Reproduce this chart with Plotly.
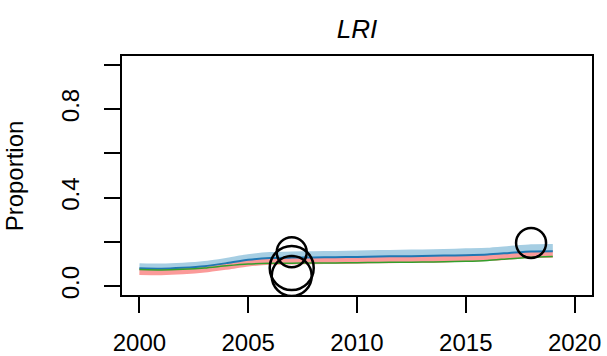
import plotly.graph_objects as go

# Fitted proportions by year
years = list(range(2000, 2020))
light_blue = [0.088, 0.086, 0.090, 0.098, 0.112, 0.128, 0.138, 0.141, 0.142, 0.143,
              0.145, 0.147, 0.149, 0.150, 0.152, 0.155, 0.158, 0.166, 0.174, 0.175]
dark_blue = [0.081, 0.079, 0.083, 0.090, 0.104, 0.119, 0.127, 0.129, 0.130, 0.131,
             0.132, 0.134, 0.135, 0.136, 0.138, 0.140, 0.143, 0.150, 0.157, 0.158]
pink = [0.066, 0.065, 0.069, 0.077, 0.090, 0.104, 0.112, 0.114, 0.115, 0.116,
        0.117, 0.119, 0.120, 0.121, 0.123, 0.126, 0.129, 0.136, 0.143, 0.144]
green = [0.075, 0.073, 0.076, 0.082, 0.092, 0.100, 0.103, 0.104, 0.105, 0.105,
         0.106, 0.107, 0.108, 0.109, 0.110, 0.112, 0.116, 0.124, 0.131, 0.134]

# Observed points (circle size ~ sample weight)
obs_years = [2007, 2007, 2007, 2018]
obs_values = [0.153, 0.082, 0.046, 0.195]
obs_sizes = [30, 44, 40, 30]

COLORS = {
    "light_blue": "#A6CEE3",
    "dark_blue": "#1F78B4",
    "pink": "#FB9A99",
    "green": "#33A02C",
    "ink": "black",
}

FONT = "Liberation Sans, Arial, sans-serif"

fig = go.Figure()

for vals, color, width in [
    (light_blue, COLORS["light_blue"], 7),
    (pink, COLORS["pink"], 7),
    (dark_blue, COLORS["dark_blue"], 2),
    (green, COLORS["green"], 1.5),
]:
    fig.add_trace(
        go.Scatter(
            x=years,
            y=vals,
            mode="lines",
            line={"color": color, "width": width, "shape": "spline", "smoothing": 0.6},
            hoverinfo="skip",
        )
    )

fig.add_trace(
    go.Scatter(
        x=obs_years,
        y=obs_values,
        mode="markers",
        marker={
            "symbol": "circle-open",
            "size": obs_sizes,
            "color": COLORS["ink"],
            "opacity": 1,
            "line": {"width": 2.5, "color": COLORS["ink"]},
        },
        hoverinfo="skip",
    )
)

fig.add_annotation(
    text="Proportion",
    x=-0.228, y=0.5,
    xref="paper", yref="paper",
    xanchor="center", yanchor="middle",
    textangle=-90,
    showarrow=False,
    font={"size": 24, "family": FONT, "color": "black"},
)

axis_common = {
    "ticks": "outside",
    "ticklen": 16,
    "tickwidth": 2,
    "tickcolor": "black",
    "showline": True,
    "linewidth": 2,
    "linecolor": "black",
    "mirror": True,
    "showgrid": False,
    "zeroline": False,
    "automargin": False,
    "tickfont": {"size": 24, "family": FONT, "color": "black"},
}

fig.update_layout(
    width=607,
    height=356,
    margin={"l": 122, "r": 15, "t": 56, "b": 61},
    paper_bgcolor="white",
    plot_bgcolor="white",
    showlegend=False,
    font={"family": FONT, "size": 24, "color": "black"},
    title={
        "text": "<i>LRI</i>",
        "x": 0.5 * (122 + 592) / 607,
        "xanchor": "center",
        "y": 1 - 29 / 356,
        "yanchor": "middle",
        "font": {"size": 26, "family": FONT, "color": "black"},
    },
    xaxis={
        **axis_common,
        "range": [1999.2, 2020.8],
        "tickvals": [2000, 2005, 2010, 2015, 2020],
        "ticklabelstandoff": 9,
    },
    yaxis={
        **axis_common,
        "range": [-0.04, 1.04],
        "tickvals": [0, 0.2, 0.4, 0.6, 0.8, 1.0],
        "ticktext": ["0.0", "", "0.4", "", "0.8", ""],
        "tickangle": -90,
        "ticklabelstandoff": 15,
    },
)

# drop the default 8px body margin so the figure fills the window
fig.write_html(
    "out.html",
    config={"displayModeBar": False, "staticPlot": True},
    post_script="document.body.style.margin='0';document.body.style.overflow='hidden';",
)
